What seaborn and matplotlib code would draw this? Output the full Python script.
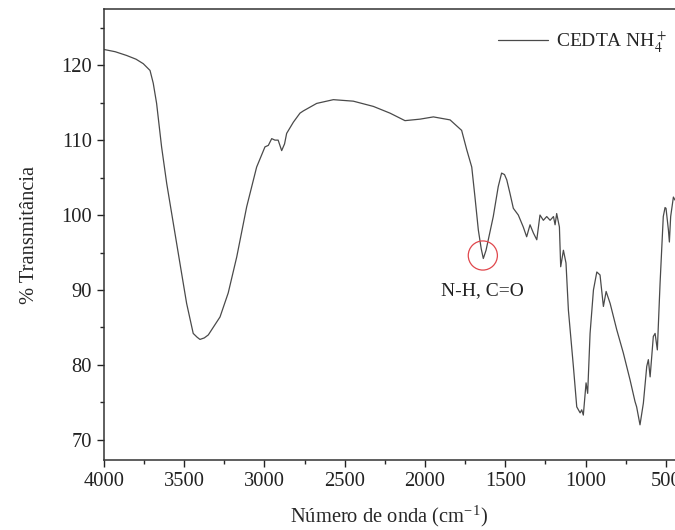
import numpy as np
import pandas as pd
import matplotlib
matplotlib.use("Agg")
from matplotlib import pyplot as plt
from matplotlib.ticker import MultipleLocator
import seaborn as sns

# FTIR spectrum
wavenumber = [4000, 3930, 3859, 3800, 3755, 3713, 3693, 3672, 3641, 3609,
              3568, 3527, 3485, 3444, 3420, 3402, 3375, 3350, 3277, 3226,
              3173, 3111, 3049, 2997, 2976, 2955, 2935, 2915, 2893, 2875,
              2862, 2820, 2779, 2758, 2675, 2571, 2447, 2322, 2218, 2125,
              2031, 1948, 1844, 1772, 1740, 1709, 1689, 1668, 1650, 1637,
              1620, 1606, 1575, 1544, 1523, 1505, 1491, 1471, 1450, 1419,
              1388, 1367, 1346, 1325, 1304, 1284, 1263, 1242, 1221, 1200,
              1190, 1180, 1163, 1155, 1138, 1122, 1107, 1076, 1055, 1034,
              1024, 1014, 997, 987, 972, 951, 930, 910, 889, 872,
              847, 806, 765, 723, 692, 682, 661, 640, 619, 609,
              598, 578, 567, 553, 536, 516, 505, 499, 484, 478,
              470, 453, 443]
transmittance = [122.1, 121.8, 121.3, 120.8, 120.2, 119.3, 117.6, 114.9, 109.1, 104.2,
                 98.9, 93.6, 88.2, 84.2, 83.7, 83.4, 83.6, 84.0, 86.4, 89.6,
                 94.4, 101.1, 106.4, 109.1, 109.3, 110.2, 110.0, 110.0, 108.6, 109.5,
                 110.9, 112.4, 113.6, 113.9, 114.9, 115.4, 115.2, 114.5, 113.6, 112.6,
                 112.8, 113.1, 112.7, 111.3, 108.7, 106.4, 102.4, 98.0, 95.5, 94.2,
                 95.3, 96.7, 99.8, 103.8, 105.6, 105.4, 104.7, 102.9, 100.9, 100.0,
                 98.4, 97.1, 98.7, 97.6, 96.7, 100.0, 99.3, 99.8, 99.3, 99.8,
                 98.7, 100.2, 98.4, 93.1, 95.3, 93.6, 87.3, 79.8, 74.4, 73.6,
                 74.0, 73.3, 77.6, 76.2, 84.2, 90.0, 92.4, 92.0, 87.8, 89.8,
                 88.2, 84.7, 81.6, 78.0, 75.1, 74.4, 72.0, 74.9, 79.8, 80.7,
                 78.4, 83.8, 84.2, 82.0, 90.9, 99.8, 101.0, 100.9, 98.0, 96.4,
                 99.8, 102.4, 102.0]

# marked band
band_wn = [1640]
band_t = [94.6]
band_label = "N-H, C=O"

sns.set_theme(style="ticks")
plt.rcParams["font.family"] = ["Liberation Serif", "DejaVu Serif"]
plt.rcParams["mathtext.fontset"] = "stix"

df = pd.DataFrame({"wn": wavenumber, "T": transmittance})

fig = plt.figure(figsize=(6.75, 5.3), dpi=100)
ax = fig.add_axes([0.154, 0.132, 0.846, 0.851])

sns.lineplot(data=df, x="wn", y="T", sort=False, color="#4a4a4a", linewidth=0.9,
             label=r"CEDTA NH$_4^+$", ax=ax)

ax.scatter(band_wn, band_t, s=440, facecolors="none", edgecolors="#e0474c", linewidths=0.9, zorder=3)
ax.text(band_wn[0], 89.9, band_label, ha="center", va="center", fontsize=14, color="#222222")

ax.set_xlim(4000, 443)
ax.set_ylim(67.3, 127.5)
ax.xaxis.set_major_locator(MultipleLocator(500))
ax.xaxis.set_minor_locator(MultipleLocator(250))
ax.yaxis.set_major_locator(MultipleLocator(10))
ax.yaxis.set_minor_locator(MultipleLocator(5))
ax.tick_params(axis="both", which="major", direction="out", length=5, width=1, labelsize=14.8, colors="#222222")
ax.tick_params(axis="both", which="minor", direction="out", length=3, width=1)
ax.spines["right"].set_visible(False)
for s in ["top", "left", "bottom"]:
    ax.spines[s].set_color("#333333")
    ax.spines[s].set_linewidth(1.1)

ax.set_xlabel(r"Número de onda (cm$^{\mathregular{-1}}$)", fontsize=14.8, labelpad=9)
ax.set_ylabel("% Transmitância", fontsize=14.8, labelpad=16)

leg = ax.legend(loc="upper right", frameon=False, fontsize=14, handlelength=2.6,
                handletextpad=0.4, borderaxespad=0.3, bbox_to_anchor=(1.01, 0.985))

fig.savefig("out.png", dpi=100)
plt.close(fig)
